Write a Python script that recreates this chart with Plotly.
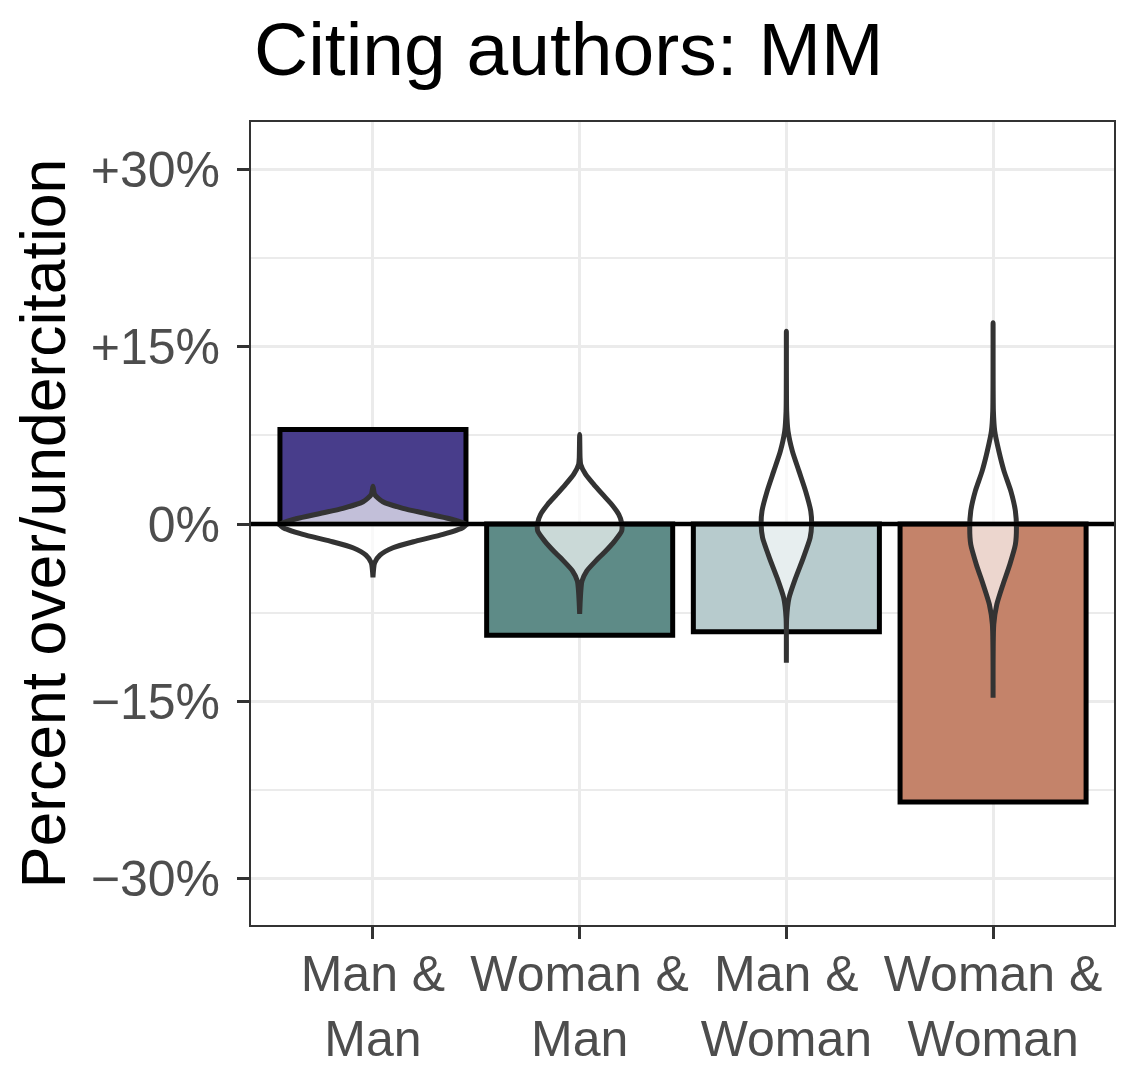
import plotly.graph_objects as go

# ---- data ----
categories = ["Man &<br>Man", "Woman &<br>Man", "Man &<br>Woman", "Woman &<br>Woman"]
bar_values = [8.0, -9.4, -9.1, -23.5]
bar_colors = ["#483D8B", "#5E8B87", "#B7CBCD", "#C4836A"]

y_tickvals = [30, 15, 0, -15, -30]
y_ticktext = ["+30%", "+15%", "0%", "\u221215%", "\u221230%"]
y_minorvals = [22.5, 7.5, -7.5, -22.5]

# violin profiles: y level (%) and half-width (category units)
v1_y = [3.2, 2.5, 1.89, 1.33, 0.9, 0.45, 0.0, -0.3, -0.87, -1.44, -2.0, -2.62, -3.27, -4.5]
v1_w = [0.0, 0.008, 0.048, 0.145, 0.256, 0.372, 0.45, 0.435, 0.339, 0.208, 0.097, 0.034, 0.008, 0.0]
v2_y = [7.58, 5.6, 5.05, 4.2, 3.36, 2.51, 1.66, 0.82, 0.11, -0.59, -1.44, -2.28, -3.13, -3.97, -4.82, -7.6]
v2_w = [0.0, 0.002, 0.005, 0.029, 0.068, 0.111, 0.155, 0.189, 0.203, 0.203, 0.169, 0.126, 0.077, 0.034, 0.011, 0.0]
v3_y = [16.31, 9.55, 7.86, 6.17, 4.48, 2.79, 1.10, -0.03, -1.16, -2.85, -4.54, -6.23, -7.92, -11.72]
v3_w = [0.0, 0.0015, 0.008, 0.029, 0.061, 0.093, 0.118, 0.122, 0.115, 0.082, 0.045, 0.013, 0.0015, 0.0]
v4_y = [17.02, 9.55, 7.86, 6.17, 4.48, 2.79, 1.10, -0.31, -1.72, -3.41, -5.10, -6.79, -8.48, -14.68]
v4_w = [0.0, 0.0015, 0.008, 0.028, 0.053, 0.086, 0.108, 0.113, 0.108, 0.081, 0.048, 0.018, 0.0034, 0.0]
violins = [(v1_y, v1_w), (v2_y, v2_w), (v3_y, v3_w), (v4_y, v4_w)]

positions = list(range(len(categories)))
FONT = "Liberation Sans, Arial, Helvetica, sans-serif"

fig = go.Figure()

fig.add_trace(go.Bar(
    x=positions, y=bar_values, width=0.9,
    marker=dict(color=bar_colors, line=dict(color="black", width=5)),
    showlegend=False, hoverinfo="skip",
))

for pos, (vy, vw) in zip(positions, violins):
    xs = [pos + w for w in vw] + [pos - w for w in reversed(vw)]
    ys = list(vy) + list(reversed(vy))
    fig.add_trace(go.Scatter(
        x=xs, y=ys, mode="lines", fill="toself",
        fillcolor="rgba(255,255,255,0.67)",
        line=dict(color="#333333", width=5, shape="spline", smoothing=0.6),
        showlegend=False, hoverinfo="skip",
    ))

fig.add_shape(type="line", xref="paper", x0=0, x1=1, yref="y", y0=0, y1=0,
              line=dict(color="black", width=4.5), layer="above")

fig.update_layout(
    width=1136, height=1078,
    margin=dict(l=243, r=30, t=114, b=161),
    paper_bgcolor="white", plot_bgcolor="white",
    font=dict(family=FONT, color="#4D4D4D"),
    title=dict(text="Citing authors: MM", x=246/1136, xanchor="left",
               xref="container", yref="container", y=1 - 41/1078, yanchor="middle",
               font=dict(size=75, color="black", family=FONT)),
    bargap=0.1,
)

fig.update_xaxes(
    range=[-0.59, 3.585], tickvals=positions, ticktext=categories,
    tickfont=dict(size=50, color="#4D4D4D"),
    ticks="outside", ticklen=12, tickwidth=2.5, tickcolor="#333333",
    ticklabelstandoff=-8,
    showgrid=True, gridcolor="#EBEBEB", gridwidth=3,
    showline=True, linecolor="#333333", linewidth=2, mirror=True,
    zeroline=False, automargin=False,
)
fig.update_yaxes(
    range=[-33.9, 34.0], tickvals=y_tickvals, ticktext=y_ticktext,
    tickfont=dict(size=50, color="#4D4D4D"),
    ticks="outside", ticklen=12, tickwidth=2.5, tickcolor="#333333",
    ticklabelstandoff=7,
    showgrid=True, gridcolor="#EBEBEB", gridwidth=3,
    minor=dict(tickvals=y_minorvals, showgrid=True, gridcolor="#EBEBEB", gridwidth=2, ticks=""),
    showline=True, linecolor="#333333", linewidth=2, mirror=True,
    zeroline=False, automargin=False,
    title=dict(text="Percent over/undercitation", standoff=12,
               font=dict(size=62.5, color="black", family=FONT)),
)

fig.write_html("out.html")
